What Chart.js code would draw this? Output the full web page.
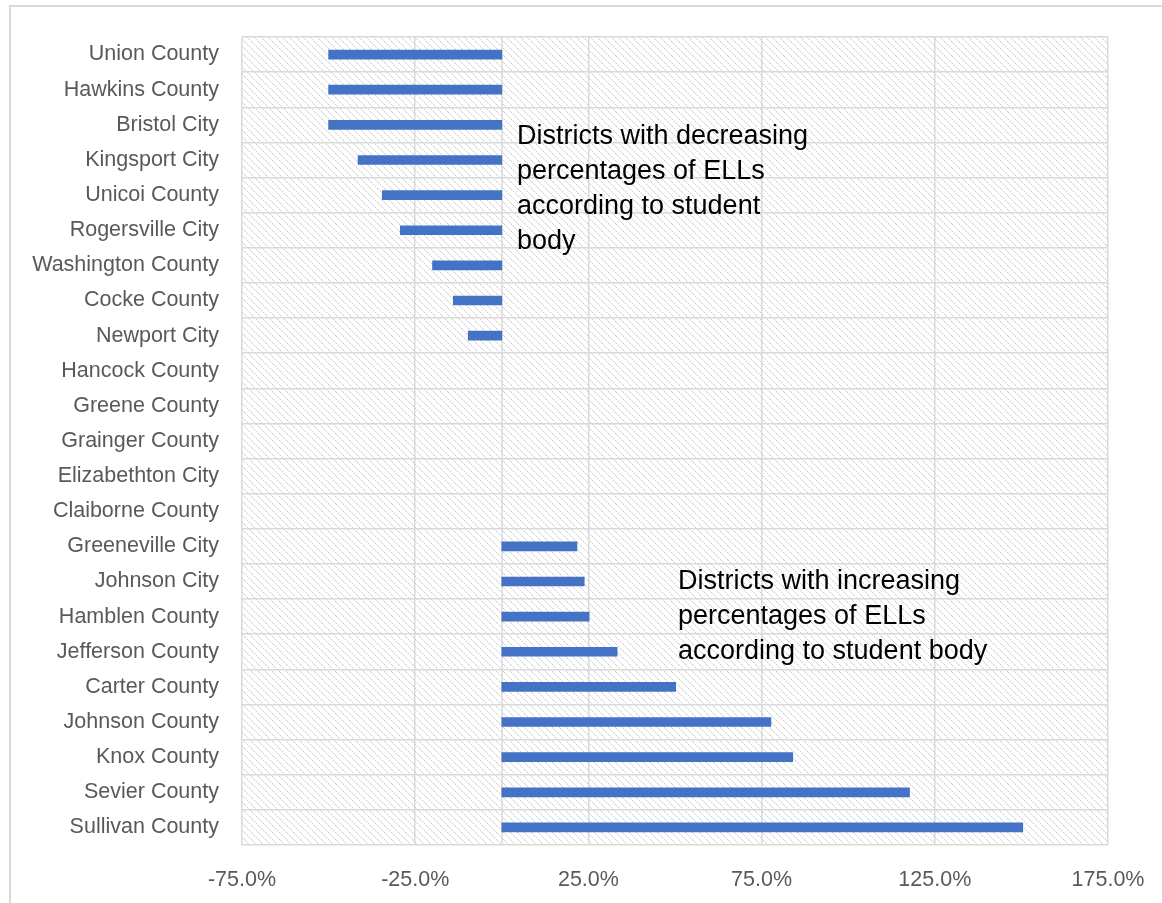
<!DOCTYPE html>
<html>
<head>
<meta charset="utf-8">
<script src="https://cdn.jsdelivr.net/npm/chart.js@4.4.1/dist/chart.umd.min.js"></script>
<style>
  html, body { margin: 0; padding: 0; background: #fff; overflow: hidden; }
  #wrap { position: relative; width: 1162px; height: 903px; }
</style>
</head>
<body>
<div id="wrap"><canvas id="ellChart" width="1162" height="903"></canvas></div>
<script>
  // districts, top to bottom
  const districts = [
    'Union County', 'Hawkins County', 'Bristol City', 'Kingsport City', 'Unicoi County',
    'Rogersville City', 'Washington County', 'Cocke County', 'Newport City', 'Hancock County',
    'Greene County', 'Grainger County', 'Elizabethton City', 'Claiborne County', 'Greeneville City',
    'Johnson City', 'Hamblen County', 'Jefferson County', 'Carter County', 'Johnson County',
    'Knox County', 'Sevier County', 'Sullivan County'
  ];
  // change in ELL share (%)
  const changePct = [
    -50, -50, -50, -41.5, -34.5,
    -29.3, -20, -14, -9.7, 0,
    0, 0, 0, 0, 21.7,
    23.8, 25.2, 33.3, 50.2, 77.7,
    84, 117.7, 150.4
  ];
  const xTicks = [-75, -25, 25, 75, 125, 175];
  const noteDown = ['Districts with decreasing', 'percentages of ELLs', 'according to student', 'body'];
  const noteUp = ['Districts with increasing', 'percentages of ELLs', 'according to student body'];

  const FONT = "'Liberation Sans', 'DejaVu Sans', sans-serif";

  function makeHatch() {
    const c = document.createElement('canvas');
    c.width = 7; c.height = 7;
    const g = c.getContext('2d');
    g.fillStyle = '#ffffff';
    g.fillRect(0, 0, 7, 7);
    for (let i = 0; i < 7; i++) {
      g.fillStyle = (i % 2 === 0) ? '#cdcdcd' : '#e4e4e4';
      g.fillRect(i, i, 1, 1);
    }
    return c;
  }

  const backdrop = {
    id: 'backdrop',
    beforeDraw(chart) {
      const ctx = chart.ctx, a = chart.chartArea;
      ctx.save();
      ctx.fillStyle = ctx.createPattern(makeHatch(), 'repeat');
      ctx.fillRect(a.left, a.top, a.right - a.left, a.bottom - a.top);
      ctx.restore();
    },
    beforeDatasetsDraw(chart) {
      // zero line (category axis crossing)
      const ctx = chart.ctx, a = chart.chartArea;
      const x0 = Math.round(chart.scales.x.getPixelForValue(0));
      ctx.save();
      ctx.strokeStyle = '#d9d9d9';
      ctx.lineWidth = 1.5;
      ctx.beginPath();
      ctx.moveTo(x0, a.top);
      ctx.lineTo(x0, a.bottom);
      ctx.stroke();
      ctx.restore();
    },
    afterDraw(chart) {
      const ctx = chart.ctx;
      ctx.save();
      // outer chart border
      ctx.strokeStyle = '#d9d9d9';
      ctx.lineWidth = 2;
      ctx.strokeRect(10, 6, 1300, 1000);
      // annotations
      ctx.fillStyle = '#000000';
      ctx.font = '27px ' + FONT;
      ctx.textBaseline = 'middle';
      ctx.textAlign = 'left';
      noteDown.forEach((t, i) => ctx.fillText(t, 517, 137 + i * 35));
      noteUp.forEach((t, i) => ctx.fillText(t, 678, 582 + i * 35));
      ctx.restore();
    }
  };

  new Chart(document.getElementById('ellChart').getContext('2d'), {
    type: 'bar',
    data: {
      labels: districts,
      datasets: [{
        data: changePct.map(v => v === 0 ? null : v),
        backgroundColor: '#4472c4',
        barThickness: 9,
        borderWidth: 0
      }]
    },
    options: {
      indexAxis: 'y',
      responsive: false,
      animation: false,
      layout: { padding: { top: 37, right: 54, left: 0, bottom: 0 } },
      plugins: { legend: { display: false }, tooltip: { enabled: false } },
      scales: {
        x: {
          min: -75,
          max: 175,
          afterBuildTicks: axis => { axis.ticks = xTicks.map(v => ({ value: v })); },
          border: { display: false },
          grid: { color: '#d9d9d9', lineWidth: 1.5, drawTicks: false },
          ticks: {
            padding: 22,
            color: '#595959',
            font: { family: FONT, size: 21.5 },
            callback: v => v.toFixed(1) + '%'
          },
          afterFit: s => { s.height = 58; s.paddingLeft = 0; s.paddingRight = 0; }
        },
        y: {
          border: { display: false },
          grid: { color: '#d9d9d9', lineWidth: 1.5, drawTicks: false },
          ticks: {
            padding: 23,
            color: '#595959',
            font: { family: FONT, size: 21.5 },
            autoSkip: false
          },
          afterFit: s => { s.width = 242; }
        }
      }
    },
    plugins: [backdrop]
  });
</script>
</body>
</html>
